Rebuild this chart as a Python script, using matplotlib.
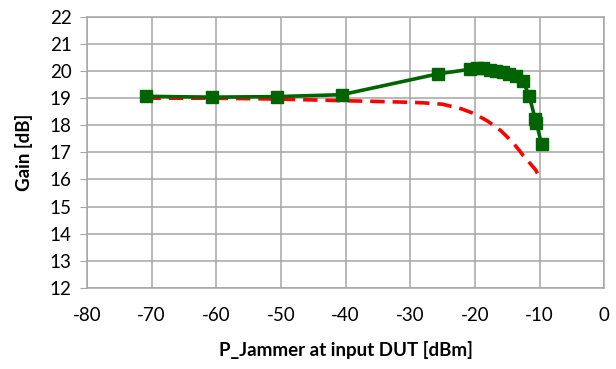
import matplotlib
matplotlib.use("Agg")
import matplotlib.pyplot as plt
import numpy as np

# measured gain vs jammer power
p_meas = [-70.8, -60.7, -50.6, -40.6, -25.7, -20.7, -19.7, -18.7, -17.7, -16.7,
          -15.7, -14.7, -13.7, -12.6, -11.6, -10.7, -10.5, -9.7]
gain_meas = [19.07, 19.04, 19.06, 19.13, 19.9, 20.07, 20.1, 20.1, 20.06, 20.02,
             19.97, 19.9, 19.83, 19.65, 19.08, 18.25, 18.1, 17.3]

# simulated / reference curve (red dashed)
p_sim = [-70.8, -60.7, -50.6, -40.6, -35.0, -30.0, -28.0, -25.0, -22.0, -20.0,
         -18.0, -16.0, -15.0, -14.0, -13.0, -12.5, -11.5, -10.6, -10.1]
gain_sim = [19.0, 19.0, 18.97, 18.91, 18.88, 18.85, 18.83, 18.78, 18.6, 18.42,
            18.15, 17.8, 17.57, 17.32, 17.03, 16.87, 16.6, 16.35, 16.1]

plt.rcParams['font.family'] = ['Lato', 'DejaVu Sans']
plt.rcParams['axes.unicode_minus'] = False  # excel style hyphen minus

fig = plt.figure(figsize=(6.16, 3.69), dpi=100)
ax = fig.add_axes([0.141, 0.22, 0.84, 0.734])

ax.plot(p_sim, gain_sim, color='#ff0000', lw=2.6, ls=(0, (4, 2.2)), zorder=2)
ax.plot(p_meas, gain_meas, color='#006400', lw=2.6, marker='s', ms=8.5,
        markerfacecolor='#006400', markeredgecolor='#006400', zorder=3)

ax.set_xlim(-80, 0)
ax.set_ylim(12, 22)
ax.set_xticks(np.arange(-80, 1, 10))
ax.set_yticks(np.arange(12, 23, 1))
ax.grid(True, color='#a6a6a6', lw=1.1)
ax.set_axisbelow(True)
for s in ax.spines.values():
    s.set_color('#a6a6a6')
    s.set_linewidth(1.1)
ax.tick_params(axis='x', length=0, pad=14, labelsize=13.5)
ax.tick_params(axis='y', length=5, color='#a6a6a6', pad=6, labelsize=13.5)

ax.set_xlabel('P_Jammer at input DUT [dBm]', fontsize=13.5, fontweight='bold', labelpad=12)
ax.set_ylabel('Gain [dB]', fontsize=13.5, fontweight='bold', labelpad=12)

fig.savefig('out.png', dpi=100)
